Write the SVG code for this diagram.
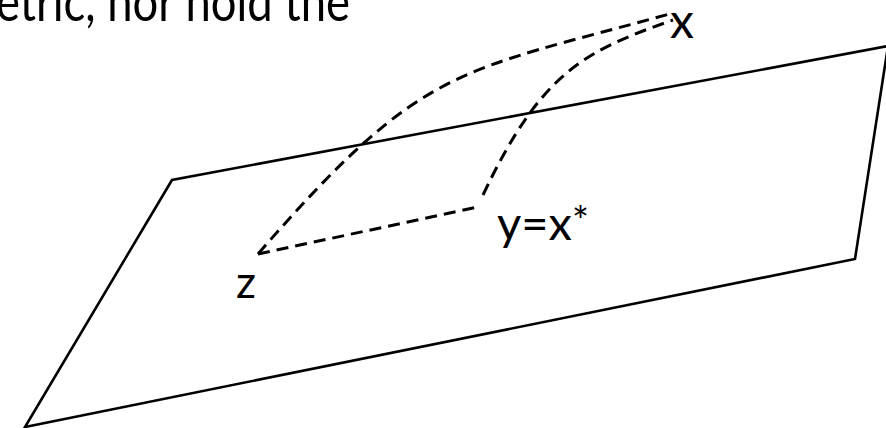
<svg xmlns="http://www.w3.org/2000/svg" width="886" height="428" viewBox="0 0 886 428">
<style>
.t{font-family:Lato,"Open Sans","Liberation Sans",sans-serif;fill:#000}
.solid{fill:none;stroke:#000;stroke-width:2.6;stroke-linejoin:miter}
.dash{fill:none;stroke:#000;stroke-width:3;stroke-dasharray:12 7}
</style>
<rect width="886" height="428" fill="#fff"/>
<text class="t" x="-4" y="21" font-size="54" textLength="354" lengthAdjust="spacingAndGlyphs">etric, nor hold the</text>
<g id="plane">
<path class="solid" d="M888,46 L172,180 L25,427 L855,259 L888,46"/>
</g>
<g id="connectors">
<path class="dash" d="M258,254 C424,63 457,73 673,13"/>
<path class="dash" d="M258,254 L478,207 M483,195 C541,73 583,51.5 673,20"/>
</g>
<g id="node-x"><text class="t" x="670" y="38" font-size="48">x</text></g>
<g id="node-y"><text class="t" x="497" y="240" font-size="47">y=x<tspan font-size="40" dy="-4">*</tspan></text></g>
<g id="node-z"><text class="t" x="236" y="298" font-size="44">z</text></g>
</svg>
